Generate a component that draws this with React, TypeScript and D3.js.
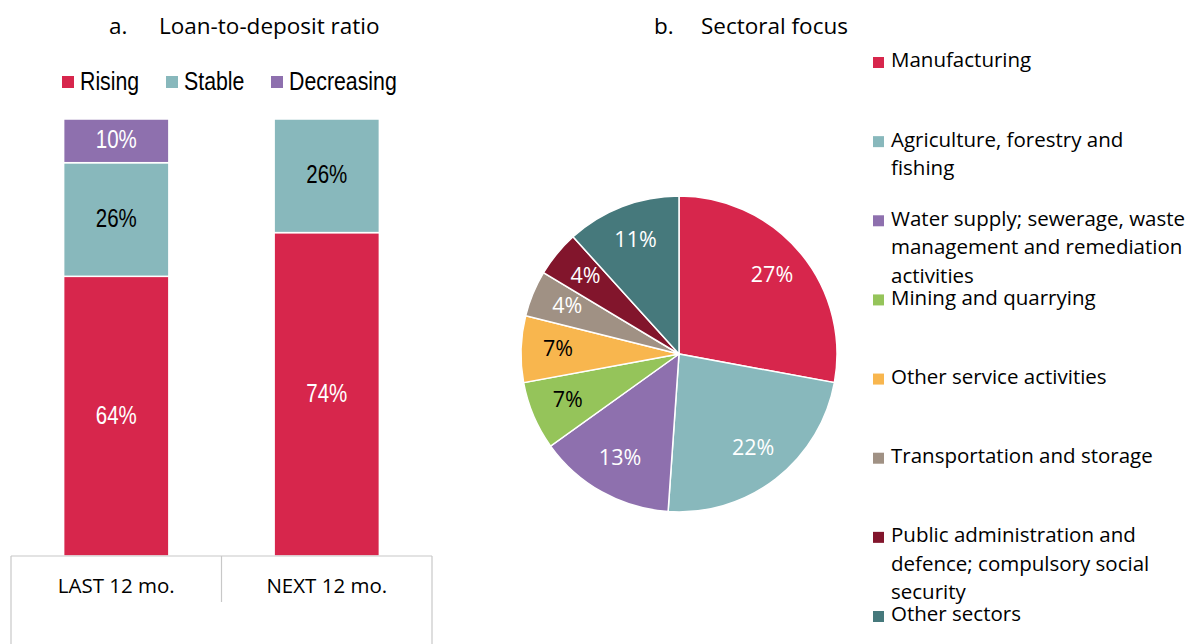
import React from "react";
import * as d3 from "d3";

// panel a: loan-to-deposit ratio expectations
const periods = ["LAST 12 mo.", "NEXT 12 mo."];
const ldrKeys = ["Rising", "Stable", "Decreasing"];
const rising = [0.64, 0.74];
const stable = [0.26, 0.26];
const decreasing = [0.1, 0];
const ldrColors = ["#D7264C", "#88B8BC", "#8E70AE"];
const ldrLabelColors = ["#ffffff", "#000000", "#ffffff"];

// panel b: sectoral focus
const sectors = [
    ["Manufacturing"],
    ["Agriculture, forestry and", "fishing"],
    ["Water supply; sewerage, waste", "management and remediation", "activities"],
    ["Mining and quarrying"],
    ["Other service activities"],
    ["Transportation and storage"],
    ["Public administration and", "defence; compulsory social", "security"],
    ["Other sectors"]
];
const sectorShares = [27.9, 23.2, 14.0, 7.0, 6.8, 4.7, 4.7, 11.7];
const sectorLabels = ["27%", "22%", "13%", "7%", "7%", "4%", "4%", "11%"];
const sectorColors = [
    "#D7264C",
    "#88B8BC",
    "#8E70AE",
    "#95C45A",
    "#F8B64E",
    "#A09184",
    "#82152C",
    "#46797C"
];
const sectorLabelColors = ["#fff", "#fff", "#fff", "#000", "#000", "#fff", "#fff", "#fff"];

const W = 1199;
const H = 644;
const bodyFont = "'Open Sans', Lato, sans-serif";
const narrowFont = "'Liberation Sans', Arial, sans-serif";
const SQUEEZE = 0.82;

// no condensed face installed, so squeeze a regular one horizontally
function NarrowText({ x, y, size, fill, anchor, children }: any) {
    return (
        <text
            transform={`translate(${x},${y}) scale(${SQUEEZE},1)`}
            textAnchor={anchor || "start"}
            dominantBaseline="middle"
            fontFamily={narrowFont}
            fontSize={size}
            fill={fill}
        >
            {children}
        </text>
    );
}

export default function App() {
    const plot = { left: 11, right: 432, top: 119, bottom: 556 };

    const x = d3
        .scaleBand()
        .domain(periods)
        .range([plot.left, plot.right])
        .paddingInner(0.5)
        .paddingOuter(0.25);
    const y = d3.scaleLinear().domain([0, 1]).range([plot.bottom, plot.top]);

    const rows = periods.map((p, i) => ({
        period: p,
        Rising: rising[i],
        Stable: stable[i],
        Decreasing: decreasing[i]
    }));
    const series = d3.stack().keys(ldrKeys)(rows as any);

    const cx = 679;
    const cy = 354;
    const r = 158;
    const pie = d3
        .pie<number>()
        .sort(null)
        .value(d => d);
    const arcs = pie(sectorShares);
    const arc = d3.arc<any>().innerRadius(0).outerRadius(r);
    const labelArc = d3.arc<any>().innerRadius(121).outerRadius(121);

    const legendY = d3
        .scaleLinear()
        .domain([0, sectors.length - 1])
        .range([62, 616]);

    const legendA = [
        { sx: 62, tx: 80 },
        { sx: 166, tx: 184 },
        { sx: 271, tx: 289 }
    ];

    return (
        <svg
            width={W}
            height={H}
            style={{ position: "absolute", left: 0, top: 0, display: "block" }}
        >
            <rect width={W} height={H} fill="#fff" />

            {/* titles */}
            <text x={109} y={28} dominantBaseline="middle" fontFamily={bodyFont} fontSize={22.5} fill="#000">
                a.
            </text>
            <text x={159} y={28} dominantBaseline="middle" fontFamily={bodyFont} fontSize={22.5} fill="#000">
                Loan-to-deposit ratio
            </text>
            <text x={654} y={28} dominantBaseline="middle" fontFamily={bodyFont} fontSize={22.5} fill="#000">
                b.
            </text>
            <text x={701} y={28} dominantBaseline="middle" fontFamily={bodyFont} fontSize={22.5} fill="#000">
                Sectoral focus
            </text>

            {/* legend a */}
            {ldrKeys.map((k, i) => (
                <g key={k}>
                    <rect x={legendA[i].sx} y={76} width={12} height={12} fill={ldrColors[i]} />
                    <NarrowText x={legendA[i].tx} y={83} size={26} fill="#000">
                        {k}
                    </NarrowText>
                </g>
            ))}

            {/* stacked bars */}
            {series.map((s, si) => (
                <g key={ldrKeys[si]}>
                    {s.map((d, di) => {
                        const h = y(d[0]) - y(d[1]);
                        if (h <= 0) return null;
                        const bx = x(periods[di]) as number;
                        return (
                            <g key={periods[di]}>
                                <rect
                                    x={bx}
                                    y={y(d[1])}
                                    width={x.bandwidth()}
                                    height={h}
                                    fill={ldrColors[si]}
                                    stroke="#fff"
                                    strokeWidth={1.5}
                                />
                                <NarrowText
                                    x={bx + x.bandwidth() / 2}
                                    y={(y(d[0]) + y(d[1])) / 2 + 1}
                                    anchor="middle"
                                    size={25}
                                    fill={ldrLabelColors[si]}
                                >
                                    {Math.round((d[1] - d[0]) * 100) + "%"}
                                </NarrowText>
                            </g>
                        );
                    })}
                </g>
            ))}

            {/* category table */}
            <g stroke="#c8c8c8" strokeWidth={1.2} fill="none">
                <line x1={plot.left} x2={plot.right} y1={plot.bottom} y2={plot.bottom} />
                <line x1={plot.left} x2={plot.left} y1={plot.bottom} y2={H} />
                <line x1={plot.right} x2={plot.right} y1={plot.bottom} y2={H} />
                <line
                    x1={(plot.left + plot.right) / 2}
                    x2={(plot.left + plot.right) / 2}
                    y1={plot.bottom}
                    y2={602}
                />
            </g>
            {periods.map(p => (
                <text
                    key={p}
                    x={(x(p) as number) + x.bandwidth() / 2}
                    y={588}
                    textAnchor="middle"
                    dominantBaseline="middle"
                    fontFamily={bodyFont}
                    fontSize={20.5}
                    fill="#000"
                >
                    {p}
                </text>
            ))}

            {/* pie */}
            <g transform={`translate(${cx},${cy})`}>
                {arcs.map((a, i) => (
                    <path key={i} d={arc(a) as string} fill={sectorColors[i]} stroke="#fff" strokeWidth={1.5} />
                ))}
                {arcs.map((a, i) => {
                    const [lx, ly] = labelArc.centroid(a);
                    return (
                        <text
                            key={"l" + i}
                            x={lx}
                            y={ly}
                            textAnchor="middle"
                            dominantBaseline="middle"
                            fontFamily={bodyFont}
                            fontSize={21.5}
                            fill={sectorLabelColors[i]}
                        >
                            {sectorLabels[i]}
                        </text>
                    );
                })}
            </g>

            {/* legend b */}
            {sectors.map((lines, i) => (
                <g key={lines[0]} transform={`translate(873,${legendY(i)})`}>
                    <rect x={0} y={-5} width={11} height={11} fill={sectorColors[i]} />
                    <text fontFamily={bodyFont} fontSize={20.5} fill="#000">
                        {lines.map((t, li) => (
                            <tspan key={li} x={18} y={li * 28.5} dominantBaseline="middle">
                                {t}
                            </tspan>
                        ))}
                    </text>
                </g>
            ))}
        </svg>
    );
}
